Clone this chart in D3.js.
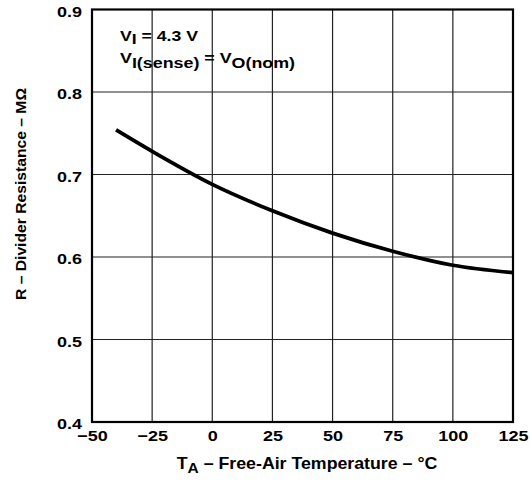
<!DOCTYPE html>
<html><head><meta charset="utf-8">
<script src="https://cdn.jsdelivr.net/npm/d3@7"></script>
<style>
html,body{margin:0;padding:0;background:#fff;}svg{display:block;}
.sx{transform-box:fill-box;transform-origin:center;}
</style>
</head><body>
<svg id="c" width="530" height="483"></svg>
<script>
const temps = [-40, -25, 0, 25, 50, 75, 100, 125];
const resistance = [0.754, 0.728, 0.688, 0.656, 0.629, 0.607, 0.590, 0.581];
const xTicks = [-50, -25, 0, 25, 50, 75, 100, 125];
const yTicks = [0.4, 0.5, 0.6, 0.7, 0.8, 0.9];

const svg = d3.select("#c");
const x = d3.scaleLinear().domain([-50, 125]).range([92, 513]);
const y = d3.scaleLinear().domain([0.4, 0.9]).range([422, 9.5]);
const font = "'Liberation Sans', Arial, sans-serif";

// grid
svg.append("g").selectAll("line").data(xTicks.slice(1, -1)).join("line")
  .attr("x1", d => x(d)).attr("x2", d => x(d)).attr("y1", y(0.9)).attr("y2", y(0.4))
  .attr("stroke", "#222").attr("stroke-width", 1.2);
svg.append("g").selectAll("line").data(yTicks.slice(1, -1)).join("line")
  .attr("y1", d => y(d)).attr("y2", d => y(d)).attr("x1", x(-50)).attr("x2", x(125))
  .attr("stroke", "#222").attr("stroke-width", 1.2);

// frame
svg.append("rect").attr("x", x(-50)).attr("y", y(0.9))
  .attr("width", x(125) - x(-50)).attr("height", y(0.4) - y(0.9))
  .attr("fill", "none").attr("stroke", "#000").attr("stroke-width", 2.2);

// axes (labels only)
const xa = svg.append("g").attr("transform", `translate(0,${y(0.4)})`)
  .call(d3.axisBottom(x).tickValues(xTicks).tickSize(0)
    .tickFormat(d => d < 0 ? "\u2212" + Math.abs(d) : d));
xa.select(".domain").remove();
xa.selectAll("text").attr("font-family", font).attr("font-weight", "bold")
  .attr("font-size", 15).attr("fill", "#000").attr("y", 19).attr("dy", 0)
  .attr("class", "sx").style("transform", "scaleX(1.2)");

const ya = svg.append("g").attr("transform", `translate(${x(-50)},0)`)
  .call(d3.axisLeft(y).tickValues(yTicks).tickSize(0).tickPadding(12).tickFormat(d3.format(".1f")));
ya.select(".domain").remove();
ya.selectAll("text").attr("font-family", font).attr("font-weight", "bold")
  .attr("font-size", 15).attr("fill", "#000").attr("dy", "0.45em")
  .attr("class", "sx").style("transform", "scaleX(1.2)");

// curve
const line = d3.line().x((d, i) => x(temps[i])).y(d => y(d)).curve(d3.curveMonotoneX);
svg.append("path").attr("d", line(resistance)).attr("fill", "none")
  .attr("stroke", "#000").attr("stroke-width", 3.8).attr("stroke-linecap", "butt");

// axis titles
const xt = svg.append("text").attr("x", 307).attr("y", 469).attr("text-anchor", "middle")
  .attr("font-family", font).attr("font-weight", "bold").attr("font-size", 16)
  .attr("class", "sx").style("transform", "scaleX(1.11)");
xt.append("tspan").text("T");
xt.append("tspan").attr("dy", 4).attr("font-size", 14).text("A");
xt.append("tspan").attr("dy", -4).text(" \u2013 Free-Air Temperature \u2013 \u00B0C");

svg.append("text").attr("transform", "translate(26,194) rotate(-90)")
  .attr("text-anchor", "middle").attr("font-family", font).attr("font-weight", "bold")
  .attr("font-size", 15).attr("textLength", 212).attr("lengthAdjust", "spacingAndGlyphs")
  .text("R \u2013 Divider Resistance \u2013 M\u03A9");

// annotation
const a1 = svg.append("text").attr("x", 120).attr("y", 41)
  .attr("font-family", font).attr("font-weight", "bold").attr("font-size", 14)
  .attr("textLength", 78).attr("lengthAdjust", "spacingAndGlyphs");
a1.append("tspan").text("V");
a1.append("tspan").attr("dy", 3).text("I");
a1.append("tspan").attr("dy", -3).text(" = 4.3 V");
const a2 = svg.append("text").attr("x", 120).attr("y", 63)
  .attr("font-family", font).attr("font-weight", "bold").attr("font-size", 14)
  .attr("textLength", 175).attr("lengthAdjust", "spacingAndGlyphs");
a2.append("tspan").text("V");
a2.append("tspan").attr("dy", 5).text("I(sense)");
a2.append("tspan").attr("dy", -5).text(" = V");
a2.append("tspan").attr("dy", 5).text("O(nom)");
</script>
</body></html>
